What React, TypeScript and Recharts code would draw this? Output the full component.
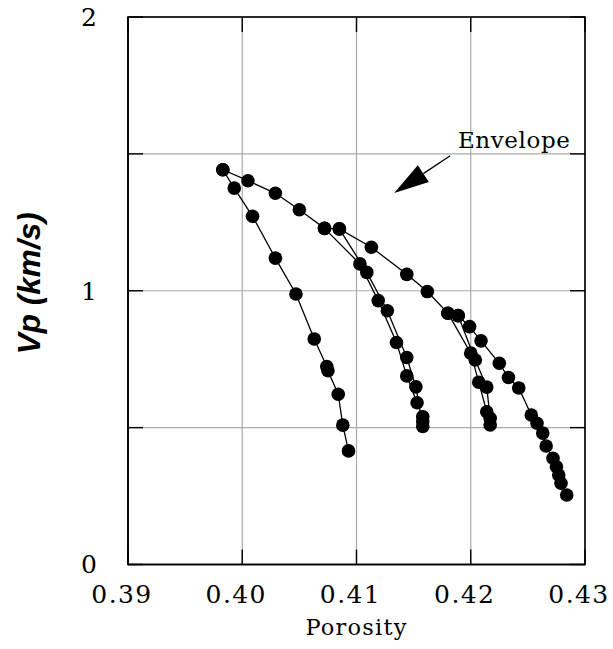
import React from 'react';
import {
  ScatterChart,
  Scatter,
  XAxis,
  YAxis,
  CartesianGrid,
  ReferenceLine,
  ReferenceDot,
} from 'recharts';

const xDomain = [0.39, 0.43];
const yDomain = [0, 2];
const xTicks = [0.39, 0.4, 0.41, 0.42, 0.43];
const yTicks = [0, 0.5, 1, 1.5, 2];

// loading envelope, high Vp end first
const envPorosity = [
  0.3983, 0.4005, 0.4029, 0.405, 0.4072, 0.4085, 0.4113, 0.4144, 0.4162, 0.418,
  0.4189, 0.4199, 0.4209, 0.4225, 0.4233, 0.4242, 0.4253, 0.4258, 0.4263, 0.4266,
  0.4272, 0.4275, 0.4277, 0.4279, 0.4284,
];
const envVp = [
  1.442, 1.402, 1.356, 1.296, 1.228, 1.226, 1.159, 1.06, 0.997, 0.918,
  0.909, 0.869, 0.817, 0.735, 0.683, 0.645, 0.546, 0.516, 0.48, 0.433,
  0.388, 0.357, 0.327, 0.297, 0.254,
];

// unloading from the top of the envelope
const cycle1Porosity = [0.3983, 0.3993, 0.4009, 0.4029, 0.4047, 0.4063, 0.4074, 0.4075, 0.4084, 0.4088, 0.4093];
const cycle1Vp = [1.442, 1.375, 1.272, 1.119, 0.988, 0.824, 0.723, 0.708, 0.622, 0.509, 0.415];

// middle unload / reload loop
const cycle2Porosity = [0.4085, 0.4109, 0.4127, 0.4144, 0.4152, 0.4158, 0.4158, 0.4158, 0.4153, 0.4144, 0.4135, 0.4119, 0.4103, 0.4072];
const cycle2Vp = [1.226, 1.067, 0.927, 0.756, 0.649, 0.504, 0.522, 0.54, 0.591, 0.689, 0.811, 0.964, 1.098, 1.228];

// right unload / reload loop
const cycle3Porosity = [0.4189, 0.4204, 0.4214, 0.4217, 0.4217, 0.4214, 0.4207, 0.42, 0.418];
const cycle3Vp = [0.909, 0.747, 0.648, 0.534, 0.51, 0.558, 0.666, 0.772, 0.918];

const toPoints = (por: number[], vp: number[]) =>
  por.map((p, i) => ({ porosity: p, vp: vp[i] }));

const series = [
  toPoints(envPorosity, envVp),
  toPoints(cycle1Porosity, cycle1Vp),
  toPoints(cycle2Porosity, cycle2Vp),
  toPoints(cycle3Porosity, cycle3Vp),
];

const serif = 'DejaVu Serif';
const TICK = 15;

// layout
const W = 613;
const H = 649;
const margin = { top: 17, right: 28, bottom: 24.5, left: 0 };
const yAxisWidth = 128;
const xAxisHeight = 60;
const plot = {
  left: margin.left + yAxisWidth,
  top: margin.top,
  right: W - margin.right,
  bottom: H - margin.bottom - xAxisHeight,
};

const Dot = (props: any) => <circle cx={props.cx} cy={props.cy} r={6.8} fill="#000" />;

// line with a filled arrow head at the second segment point
const Arrow = (props: any) => {
  const { x1, y1, x2, y2 } = props;
  const dx = x2 - x1;
  const dy = y2 - y1;
  const len = Math.hypot(dx, dy) || 1;
  const ux = dx / len;
  const uy = dy / len;
  const bx = x2 - ux * 35;
  const by = y2 - uy * 35;
  const px = -uy * 10;
  const py = ux * 10;
  return (
    <g>
      <line x1={x1} y1={y1} x2={bx} y2={by} stroke="#000" strokeWidth={1.3} />
      <polygon points={`${x2},${y2} ${bx + px},${by + py} ${bx - px},${by - py}`} fill="#000" />
    </g>
  );
};

// box round the plot, inward ticks on top and right
const Frame = () => {
  const w = plot.right - plot.left;
  const h = plot.bottom - plot.top;
  return (
    <svg
      width={W}
      height={H}
      style={{ position: 'absolute', left: 0, top: 0, pointerEvents: 'none' }}
    >
      <rect x={plot.left} y={plot.top} width={w} height={h} fill="none" stroke="#000" strokeWidth={1.6} />
      {xTicks.map((t) => {
        const x = plot.left + ((t - xDomain[0]) / (xDomain[1] - xDomain[0])) * w;
        return <line key={`t${t}`} x1={x} y1={plot.top} x2={x} y2={plot.top + TICK} stroke="#000" strokeWidth={1.4} />;
      })}
      {yTicks.map((t) => {
        const y = plot.bottom - ((t - yDomain[0]) / (yDomain[1] - yDomain[0])) * h;
        return <line key={`r${t}`} x1={plot.right} y1={y} x2={plot.right - TICK} y2={y} stroke="#000" strokeWidth={1.4} />;
      })}
    </svg>
  );
};

const YLabel = (props: any) => {
  const vb = props.viewBox;
  const cx = vb.x + 29;
  const cy = vb.y + vb.height / 2 - 7.5;
  return (
    <text
      x={cx}
      y={cy}
      transform={`rotate(-90, ${cx}, ${cy})`}
      textAnchor="middle"
      dominantBaseline="central"
      fontFamily="Liberation Sans"
      fontWeight="bold"
      fontStyle="italic"
      fontSize={31.5}
      fill="#000"
    >
      Vp (km/s)
    </text>
  );
};

const axisLine = { stroke: '#000', strokeWidth: 1.6 };
const tickLine = { stroke: '#000', strokeWidth: 1.4 };

export default function App() {
  return (
    <div style={{ position: 'absolute', left: 0, top: 0, width: W, height: H, background: '#fff' }}>
      <ScatterChart width={W} height={H} margin={margin}>
        <CartesianGrid stroke="#aaa" strokeWidth={1.2} />
        <XAxis
          type="number"
          dataKey="porosity"
          domain={xDomain}
          ticks={xTicks}
          allowDataOverflow
          height={xAxisHeight}
          tickSize={-TICK}
          tickMargin={36}
          tickFormatter={(v: number) => v.toFixed(2)}
          tick={{ fill: '#000', fontSize: 25, fontFamily: serif, letterSpacing: 1.4, dx: -6 }}
          axisLine={axisLine}
          tickLine={tickLine}
          label={{
            value: 'Porosity',
            position: 'bottom',
            offset: -5,
            fill: '#000',
            fontSize: 22.5,
            letterSpacing: 1.2,
            fontFamily: serif,
          }}
        />
        <YAxis
          type="number"
          dataKey="vp"
          domain={yDomain}
          ticks={yTicks}
          allowDataOverflow
          width={yAxisWidth}
          tickSize={-TICK}
          tickMargin={46}
          tickFormatter={(v: number) => (Number.isInteger(v) ? String(v) : '')}
          tick={{ fill: '#000', fontSize: 25, fontFamily: serif }}
          axisLine={axisLine}
          tickLine={tickLine}
          label={{ content: <YLabel /> }}
        />
        {series.map((d, i) => (
          <Scatter
            key={i}
            data={d}
            fill="#000"
            line={{ stroke: '#000', strokeWidth: 1.3 }}
            shape={<Dot />}
            isAnimationActive={false}
          />
        ))}
        <ReferenceLine
          segment={[
            { x: 0.4182, y: 1.493 },
            { x: 0.4133, y: 1.357 },
          ]}
          shape={<Arrow />}
        />
        <ReferenceDot
          x={0.4238}
          y={1.5515}
          r={0}
          fill="none"
          stroke="none"
          label={{
            value: 'Envelope',
            position: 'center',
            fill: '#000',
            fontSize: 23,
            letterSpacing: 0.6,
            fontFamily: serif,
          }}
        />
      </ScatterChart>
      <Frame />
    </div>
  );
}
